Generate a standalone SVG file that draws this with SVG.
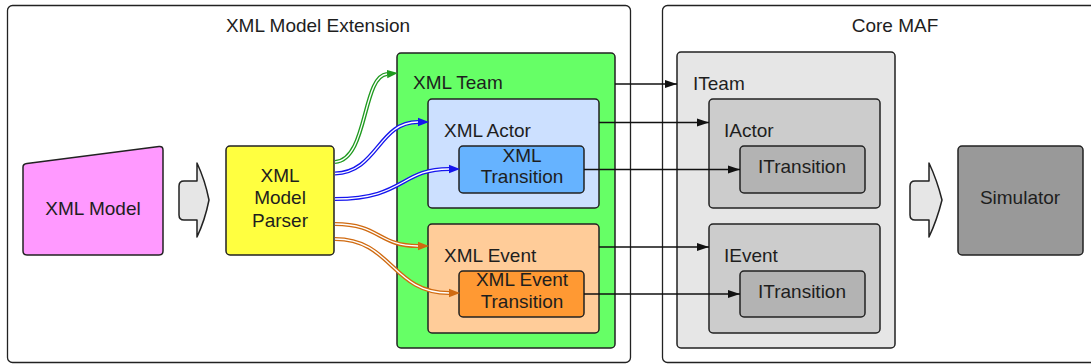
<svg xmlns="http://www.w3.org/2000/svg" width="1091" height="364" viewBox="0 0 1091 364">
<style>
text{font-family:"Liberation Sans",Arial,sans-serif;font-size:19px;fill:#1e1e1e}
.c{text-anchor:middle}
.box{stroke:#222;stroke-width:1.5}
.cont{fill:#fff;stroke:#222;stroke-width:1.3}
.blk{fill:none;stroke:#111;stroke-width:1.4}
.inner{fill:none;stroke:#fff;stroke-width:1.3}
.g{fill:none;stroke:#1f9a1f;stroke-width:4}
.b{fill:none;stroke:#1515ee;stroke-width:4}
.o{fill:none;stroke:#d06a10;stroke-width:4}
.barrow{fill:#e6e6e6;stroke:#222;stroke-width:1.5;stroke-linejoin:round}
</style>
<defs>
<marker id="ab" markerUnits="userSpaceOnUse" markerWidth="14" markerHeight="10" refX="12" refY="5" orient="auto"><path d="M0,1 L12,5 L0,9 Z" fill="#111"/></marker>
<marker id="ag" markerUnits="userSpaceOnUse" markerWidth="12" markerHeight="10" refX="0" refY="5" orient="auto"><path d="M0,0.8 L11,5 L0,9.2 Z" fill="#1f9a1f"/></marker>
<marker id="abl" markerUnits="userSpaceOnUse" markerWidth="12" markerHeight="10" refX="0" refY="5" orient="auto"><path d="M0,0.8 L11,5 L0,9.2 Z" fill="#1515ee"/></marker>
<marker id="ao" markerUnits="userSpaceOnUse" markerWidth="12" markerHeight="10" refX="0" refY="5" orient="auto"><path d="M0,0.8 L11,5 L0,9.2 Z" fill="#d06a10"/></marker>
</defs>
<rect width="1091" height="364" fill="#fff"/>

<g id="xml-model-extension">
<rect class="cont" x="7.5" y="5.5" width="623" height="357" rx="5"/>
<text class="c" x="318" y="32">XML Model Extension</text>
</g>
<g id="core-maf">
<rect class="cont" x="662.5" y="5.5" width="440" height="357" rx="5"/>
<text class="c" x="895" y="32">Core MAF</text>
</g>

<g id="xml-model">
<path class="box" d="M27,163.5 L159,146.5 Q163,146 163,150 L163,251 Q163,255 159,255 L27,255 Q23,255 23,251 L23,167 Q23,164 27,163.5 Z" fill="#ff99ff"/>
<text class="c" x="93" y="215">XML Model</text>
</g>
<g id="arrow1">
<path class="barrow" d="M197,181 L197,163 Q205,180 209,200 Q205,220 197,237 L197,220 L184,220 Q179,220 179,215 L179,186 Q179,181 184,181 Z"/>
</g>
<g id="parser">
<rect class="box" x="226" y="146" width="108" height="109" rx="4" fill="#ffff40"/>
<text class="c" x="280" y="182">XML</text>
<text class="c" x="280" y="204">Model</text>
<text class="c" x="280" y="227">Parser</text>
</g>

<g id="xml-team">
<rect class="box" x="397" y="53" width="218" height="295" rx="4" fill="#66ff66"/>
<text x="413" y="89">XML Team</text>
</g>
<g id="xml-actor">
<rect class="box" x="428" y="99" width="171" height="109" rx="4" fill="#cce0ff"/>
<text x="444" y="137">XML Actor</text>
</g>
<g id="xml-transition">
<rect class="box" x="459" y="146" width="125" height="47" rx="4" fill="#66b3ff"/>
<text class="c" x="522" y="162">XML</text>
<text class="c" x="522" y="183">Transition</text>
</g>
<g id="xml-event">
<rect class="box" x="428" y="224" width="171" height="109" rx="4" fill="#ffcc99"/>
<text x="444" y="262">XML Event</text>
</g>
<g id="xml-event-transition">
<rect class="box" x="459" y="271" width="125" height="46" rx="4" fill="#ff9933"/>
<text class="c" x="522" y="286">XML Event</text>
<text class="c" x="522" y="308">Transition</text>
</g>

<g id="iteam">
<rect class="box" x="677" y="52" width="218" height="296" rx="4" fill="#e6e6e6"/>
<text x="693" y="90">ITeam</text>
</g>
<g id="iactor">
<rect class="box" x="709" y="99" width="171" height="109" rx="4" fill="#cccccc"/>
<text x="724" y="137">IActor</text>
</g>
<g id="itransition1">
<rect class="box" x="740" y="146" width="125" height="47" rx="4" fill="#b3b3b3"/>
<text class="c" x="802" y="173">ITransition</text>
</g>
<g id="ievent">
<rect class="box" x="709" y="224" width="171" height="109" rx="4" fill="#cccccc"/>
<text x="724" y="262">IEvent</text>
</g>
<g id="itransition2">
<rect class="box" x="740" y="271" width="125" height="46" rx="4" fill="#b3b3b3"/>
<text class="c" x="802" y="298">ITransition</text>
</g>

<g id="arrow2">
<path class="barrow" d="M929,181 L929,163 Q937,180 942,200 Q937,220 929,237 L929,220 L915,220 Q910,220 910,215 L910,186 Q910,181 915,181 Z"/>
</g>
<g id="simulator">
<rect class="box" x="958" y="146" width="125" height="109" rx="4" fill="#999999"/>
<text class="c" x="1020" y="204">Simulator</text>
</g>

<g id="connectors">
<path class="blk" d="M615,84 H677" marker-end="url(#ab)"/>
<path class="blk" d="M599,122.5 H709" marker-end="url(#ab)"/>
<path class="blk" d="M584,169.5 H740" marker-end="url(#ab)"/>
<path class="blk" d="M599,247 H709" marker-end="url(#ab)"/>
<path class="blk" d="M584,294 H740" marker-end="url(#ab)"/>

<path class="g" d="M335,162 C368,160 362,76 387,74" marker-end="url(#ag)"/>
<path class="inner" d="M335,162 C368,160 362,76 387,74"/>
<path class="b" d="M335,173.5 C378,172 378,122 418,122" marker-end="url(#abl)"/>
<path class="inner" d="M335,173.5 C378,172 378,122 418,122"/>
<path class="b" d="M335,199 C405,199 400,169 449,169" marker-end="url(#abl)"/>
<path class="inner" d="M335,199 C405,199 400,169 449,169"/>
<path class="o" d="M335,224 C380,224 378,246 418,246" marker-end="url(#ao)"/>
<path class="inner" d="M335,224 C380,224 378,246 418,246"/>
<path class="o" d="M335,239 C392,239 392,293 449,293" marker-end="url(#ao)"/>
<path class="inner" d="M335,239 C392,239 392,293 449,293"/>
</g>
</svg>
